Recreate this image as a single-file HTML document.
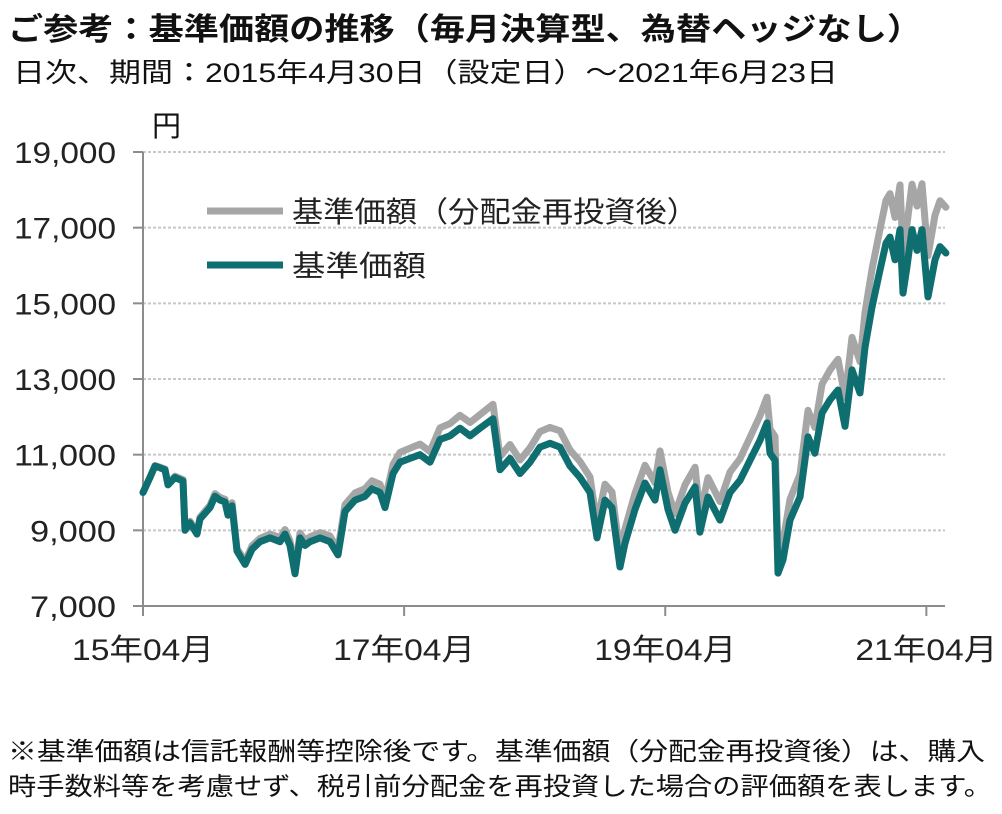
<!DOCTYPE html>
<html><head><meta charset="utf-8"><style>
html,body{margin:0;padding:0;background:#fff;}
svg{display:block;font-family:"Liberation Sans","Noto Sans CJK JP",sans-serif;}
</style></head><body>
<svg id="chart" width="1002" height="814" viewBox="0 0 1002 814">
<text x="8" y="40" font-size="31" font-weight="bold" fill="#111" textLength="914" lengthAdjust="spacingAndGlyphs">ご参考：基準価額の推移（毎月決算型、為替ヘッジなし）</text>
<text x="13" y="82" font-size="27" fill="#111" textLength="825" lengthAdjust="spacingAndGlyphs">日次、期間：2015年4月30日（設定日）～2021年6月23日</text>
<text x="152" y="136" font-size="29" fill="#111">円</text>
<g id="grid"></g>
<g id="axes"></g>
<g id="series"></g>
<g>
<line x1="207" y1="211" x2="283" y2="211" stroke="#a6a6a6" stroke-width="7"/>
<text x="292" y="222" font-size="29" fill="#222" textLength="406" lengthAdjust="spacingAndGlyphs">基準価額（分配金再投資後）</text>
<line x1="207" y1="265" x2="283" y2="265" stroke="#0e6e70" stroke-width="7"/>
<text x="292" y="276" font-size="29" fill="#222" textLength="134" lengthAdjust="spacingAndGlyphs">基準価額</text>
</g>
<text x="8" y="760" font-size="25" fill="#111" textLength="977" lengthAdjust="spacingAndGlyphs">※基準価額は信託報酬等控除後です。基準価額（分配金再投資後）は、購入</text>
<text x="8" y="795" font-size="25" fill="#111" textLength="984" lengthAdjust="spacingAndGlyphs">時手数料等を考慮せず、税引前分配金を再投資した場合の評価額を表します。</text>
</svg>
<script>
const yTicks = [7000, 9000, 11000, 13000, 15000, 17000, 19000];
const yTickLabels = ["7,000","9,000","11,000","13,000","15,000","17,000","19,000"];
const xTickMonths = [0, 24, 48, 72];
const xTickLabels = ["15年04月","17年04月","19年04月","21年04月"];
const months = [0,0.64,1.1,1.56,2.02,2.3,2.94,3.68,3.86,4.32,4.96,5.24,6.16,6.62,7.08,7.54,7.81,8.18,8.64,9.38,10.02,10.75,11.67,12.59,13.05,13.51,13.97,14.43,14.89,15.35,16.27,17.19,17.92,18.57,19.49,20.4,21.05,21.78,22.24,22.98,23.62,24.54,25.46,26.38,27.3,28.22,29.14,30.06,30.97,32.17,32.81,33.73,34.65,35.57,36.49,37.41,38.33,39.25,40.17,41.08,41.73,42.46,43.11,43.84,44.3,45.22,46.14,47.06,47.52,48.25,48.9,49.82,50.74,51.19,51.93,53.03,53.95,54.87,55.79,56.71,57.35,57.63,58.09,58.36,58.82,59.47,60.39,61.12,61.76,62.41,63.14,63.88,64.52,65.17,65.9,66.36,67.0,67.74,68.29,68.66,69.12,69.58,69.85,70.22,70.68,71.14,71.6,72.15,72.79,73.25,73.8];
const nav = [10000,10400,10700,10650,10600,10200,10400,10300,9000,9200,8900,9300,9600,9900,9800,9750,9400,9650,8450,8100,8500,8700,8800,8700,8900,8600,7850,8800,8600,8700,8800,8700,8350,9500,9800,9900,10100,10000,9600,10500,10800,10900,11000,10800,11400,11500,11700,11500,11700,11950,10600,10900,10500,10800,11200,11300,11200,10700,10400,10000,8800,9800,9600,8030,8660,9550,10250,9800,10600,9550,9000,9720,10150,8950,9880,9270,10000,10320,10850,11380,11840,11040,10850,7870,8220,9270,9880,11470,11040,12100,12450,12710,11750,13240,12630,13840,14900,15880,16590,16750,16150,16950,15270,15970,16950,16400,16950,15170,16150,16500,16330];
const navReinvested = [10000,10400,10710,10670,10620,10220,10430,10340,9030,9240,8940,9350,9660,9970,9870,9820,9470,9730,8520,8180,8590,8790,8900,8810,9020,8720,7960,8930,8730,8830,8940,8850,8500,9680,9990,10100,10310,10220,9810,10740,11060,11170,11280,11080,11710,11820,12040,11850,12060,12330,10950,11270,10860,11180,11610,11720,11630,11120,10820,10410,9170,10220,10010,8380,9040,9980,10720,10260,11100,10010,9440,10200,10670,9410,10390,9760,10540,10890,11460,12030,12520,11680,11480,8330,8700,9820,10480,12170,11720,12860,13240,13520,12510,14100,13460,14760,15900,16960,17720,17900,17270,18130,16340,17090,18150,17570,18160,16260,17330,17710,17540];

const NS = "http://www.w3.org/2000/svg";
const X0 = 143, PXM = 10.88, Y0 = 606, YMIN = 7000, YMAX = 19000, YTOP = 152;
const xs = m => X0 + m * PXM;
const ys = v => Y0 - (v - YMIN) / (YMAX - YMIN) * (Y0 - YTOP);
function mk(tag, attrs, parent) {
  const e = document.createElementNS(NS, tag);
  for (const k in attrs) e.setAttribute(k, attrs[k]);
  parent.appendChild(e);
  return e;
}
const grid = document.getElementById('grid');
const axes = document.getElementById('axes');
const series = document.getElementById('series');
yTicks.forEach((v, i) => {
  const y = ys(v);
  if (v !== YMIN) {
    const g = mk('line', {x1: X0, x2: 945, y1: y, y2: y, stroke: '#c8c8c8', 'stroke-width': 2, 'stroke-dasharray': '3 2'}, grid);
    
    
  }
  const t = mk('line', {x1: 133, x2: X0, y1: y, y2: y, stroke: '#8c8c8c', 'stroke-width': 2}, axes);
  
  
  const l = mk('text', {x: 116, y: y + 11, 'font-size': 30, fill: '#222', 'text-anchor': 'end', textLength: 102, lengthAdjust: 'spacingAndGlyphs'}, axes);
  if (yTickLabels[i].length === 5) l.setAttribute('textLength', 86);
  l.textContent = yTickLabels[i];
  
  
});
const ya = mk('line', {x1: X0, x2: X0, y1: YTOP, y2: Y0, stroke: '#8c8c8c', 'stroke-width': 2}, axes);


const xa = mk('line', {x1: X0, x2: 945, y1: Y0, y2: Y0, stroke: '#8c8c8c', 'stroke-width': 2}, axes);


xTickMonths.forEach((m, i) => {
  const x = xs(m);
  const t = mk('line', {x1: x, x2: x, y1: Y0, y2: Y0 + 10, stroke: '#8c8c8c', 'stroke-width': 2}, axes);
  
  
  const l = mk('text', {x: x, y: Y0 + 54, 'font-size': 30, fill: '#222', 'text-anchor': 'middle', textLength: 142, lengthAdjust: 'spacingAndGlyphs'}, axes);
  l.textContent = xTickLabels[i];
  
  
});
function path(vals) {
  return vals.map((v, i) => (i ? 'L' : 'M') + xs(months[i]).toFixed(1) + ' ' + ys(v).toFixed(1)).join(' ');
}
const p1 = mk('path', {d: path(navReinvested), fill: 'none', stroke: '#a6a6a6', 'stroke-width': 7, 'stroke-linejoin': 'round', 'stroke-linecap': 'round'}, series);


const p2 = mk('path', {d: path(nav), fill: 'none', stroke: '#0e6e70', 'stroke-width': 7, 'stroke-linejoin': 'round', 'stroke-linecap': 'round'}, series);


</script>
</body></html>
